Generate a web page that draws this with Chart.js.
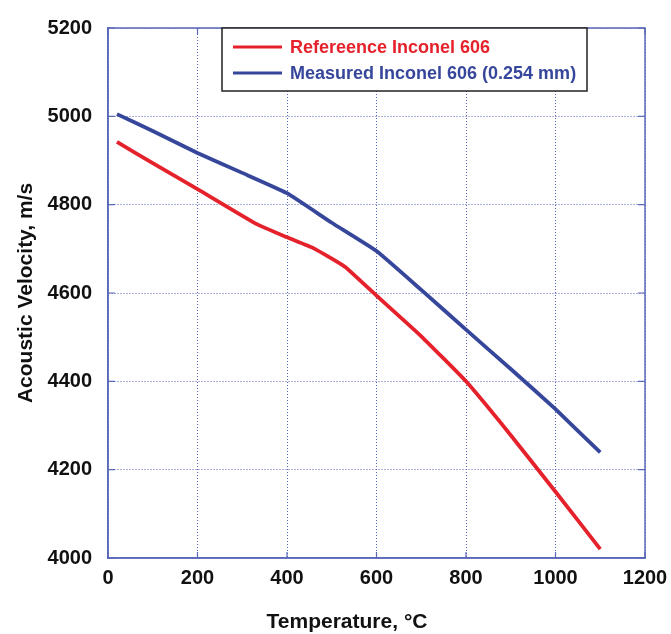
<!DOCTYPE html>
<html>
<head>
<meta charset="utf-8">
<script src="https://cdn.jsdelivr.net/npm/chart.js@4/dist/chart.umd.min.js"></script>
<style>
    html, body { margin: 0; padding: 0; background: #fff; }
    #grafico { display: block; }
</style>
</head>
<body>
<canvas id="grafico" width="671" height="634"></canvas>
<script>
// Dados
const refTemp = [20, 100, 200, 330, 400, 460, 530, 600, 700, 800, 900, 1000, 1100];
const refVel = [4942, 4894, 4835, 4757, 4726, 4701, 4659, 4594, 4502, 4400, 4278, 4150, 4020];
const medTemp = [20, 100, 200, 300, 400, 500, 600, 700, 800, 900, 1000, 1100];
const medVel = [5005, 4967, 4917, 4872, 4826, 4759, 4695, 4607, 4517, 4428, 4337, 4239];
const xTicks = [0, 200, 400, 600, 800, 1000, 1200];
const yTicks = [4000, 4200, 4400, 4600, 4800, 5000, 5200];
const rotulos = ['Refereence Inconel 606', 'Measured Inconel 606 (0.254 mm)'];
const tituloX = 'Temperature, °C';
const tituloY = 'Acoustic Velocity, m/s';

const corVermelha = '#e5222b';
const corAzul = '#36479b';
const corEixo = '#5a68b8';
const corGrade = '#5664b6';
const fonte = 'Arial, "Liberation Sans", sans-serif';

function pares(xs, ys) {
    return xs.map((x, i) => ({ x, y: ys[i] }));
}

// Moldura com marcas internas (todos os lados) + título do eixo X
const molduraPlugin = {
    id: 'moldura',
    beforeDatasetsDraw(chart) {
        const { ctx, chartArea: a, scales } = chart;
        ctx.save();
        ctx.strokeStyle = corEixo;
        ctx.lineWidth = 1.5;
        ctx.strokeRect(a.left, a.top, a.right - a.left, a.bottom - a.top);
        ctx.lineWidth = 1.2;
        ctx.beginPath();
        xTicks.forEach(v => {
            const px = scales.x.getPixelForValue(v);
            ctx.moveTo(px, a.bottom); ctx.lineTo(px, a.bottom - 6);
            ctx.moveTo(px, a.top); ctx.lineTo(px, a.top + 6);
        });
        yTicks.forEach(v => {
            const py = scales.y.getPixelForValue(v);
            ctx.moveTo(a.left, py); ctx.lineTo(a.left + 7, py);
            ctx.moveTo(a.right, py); ctx.lineTo(a.right - 7, py);
        });
        ctx.stroke();

        // título do eixo X (deslocado para a esquerda como no original)
        ctx.fillStyle = '#111';
        ctx.font = `bold 21px ${fonte}`;
        ctx.textAlign = 'center';
        ctx.textBaseline = 'middle';
        ctx.fillText(tituloX, 347, 622);
        ctx.restore();
    }
};

// Legenda dentro da área do gráfico
const legendaPlugin = {
    id: 'legendaCaixa',
    afterDatasetsDraw(chart) {
        const { ctx } = chart;
        const caixa = { x: 222, y: 28, w: 365, h: 63 };
        ctx.save();
        ctx.fillStyle = '#fff';
        ctx.fillRect(caixa.x, caixa.y, caixa.w, caixa.h);
        ctx.strokeStyle = '#222';
        ctx.lineWidth = 1.5;
        ctx.strokeRect(caixa.x, caixa.y, caixa.w, caixa.h);
        ctx.font = `bold 18px ${fonte}`;
        ctx.textBaseline = 'middle';
        chart.data.datasets.forEach((ds, i) => {
            const y = caixa.y + 19 + i * 26;
            ctx.strokeStyle = ds.borderColor;
            ctx.lineWidth = 3;
            ctx.beginPath();
            ctx.moveTo(caixa.x + 11, y);
            ctx.lineTo(caixa.x + 60, y);
            ctx.stroke();
            ctx.fillStyle = ds.borderColor;
            ctx.fillText(ds.label, caixa.x + 68, y + 1);
        });
        ctx.restore();
    }
};

function configEixo(min, max) {
    return {
        type: 'linear',
        min,
        max,
        ticks: {
            stepSize: 200,
            color: '#111',
            font: { family: fonte, size: 20, weight: 'bold' },
            callback: v => String(v)
        },
        grid: {
            color: corGrade,
            lineWidth: 1,
            drawTicks: false
        },
        border: {
            color: corEixo,
            width: 1.5,
            dash: [1, 2]
        }
    };
}

const eixoX = configEixo(0, 1200);
eixoX.ticks.padding = 8;
eixoX.afterFit = escala => {
    escala.height = 76;
    escala.paddingLeft = 0;
    escala.paddingRight = 0;
};

const eixoY = configEixo(4000, 5200);
eixoY.ticks.padding = 16;
eixoY.title = {
    display: true,
    text: tituloY,
    color: '#111',
    font: { family: fonte, size: 21, weight: 'bold' },
    padding: { top: 14, bottom: 0 }
};
eixoY.afterFit = escala => { escala.width = 108; };

const ctx = document.getElementById('grafico').getContext('2d');
new Chart(ctx, {
    type: 'line',
    data: {
        datasets: [
            {
                label: rotulos[0],
                data: pares(refTemp, refVel),
                borderColor: corVermelha,
                borderWidth: 3.8,
                pointRadius: 0,
                tension: 0.12,
                borderJoinStyle: 'round',
                fill: false
            },
            {
                label: rotulos[1],
                data: pares(medTemp, medVel),
                borderColor: corAzul,
                borderWidth: 3.8,
                pointRadius: 0,
                tension: 0.12,
                borderJoinStyle: 'round',
                fill: false
            }
        ]
    },
    options: {
        responsive: false,
        animation: false,
        devicePixelRatio: 1,
        layout: { padding: { top: 19, right: 26, left: 0, bottom: 0 } },
        plugins: {
            legend: { display: false },
            tooltip: { enabled: false }
        },
        scales: { x: eixoX, y: eixoY }
    },
    plugins: [molduraPlugin, legendaPlugin]
});
</script>
</body>
</html>
